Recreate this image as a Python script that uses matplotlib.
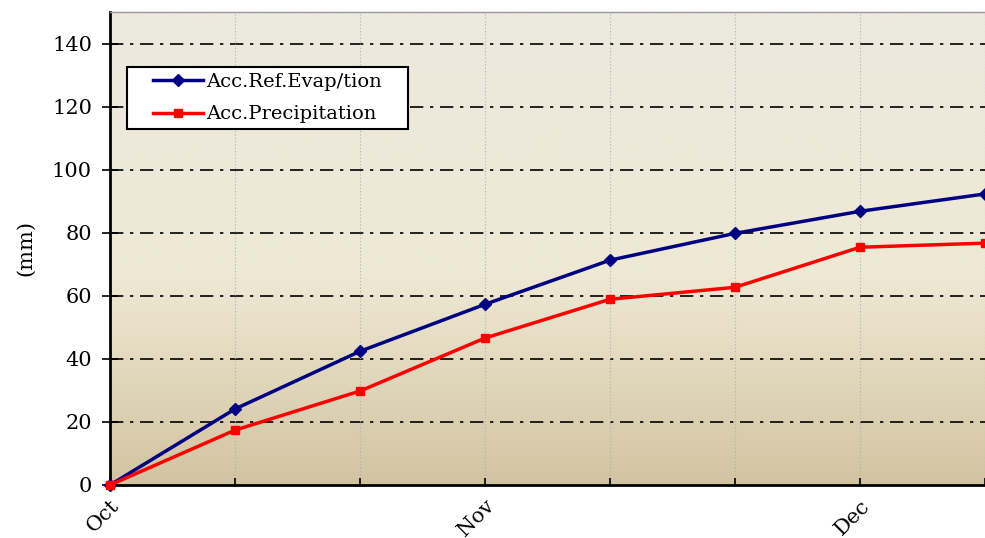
import matplotlib
matplotlib.use("Agg")
import matplotlib.pyplot as plt
import numpy as np
from matplotlib.colors import LinearSegmentedColormap
from matplotlib.patches import Rectangle
from matplotlib.transforms import IdentityTransform

x_labels = ["Oct", "", "", "Nov", "", "", "Dec", ""]
evap = [0, 24.1, 42.4, 57.3, 71.3, 79.8, 86.8, 92.3]
precip = [0, 17.4, 29.8, 46.6, 58.9, 62.7, 75.4, 76.7]

plt.rcParams['font.family'] = ['DejaVu Serif']
fig = plt.figure(figsize=(9.85, 5.38), dpi=100)
ax = fig.add_axes([110/985, 53/538, 875/985, 473/538])

# gradient background
cmap = LinearSegmentedColormap.from_list("bg", [
    (0.0, (210/255, 196/255, 161/255)),
    (0.45, (239/255, 233/255, 213/255)),
    (1.0, (236/255, 233/255, 222/255))])
grad = np.linspace(0, 1, 256).reshape(-1, 1)
ax.imshow(grad, aspect='auto', cmap=cmap, origin='lower',
          extent=[0, 7, 0, 150], zorder=0)

xs = np.arange(len(evap))
ax.plot(xs, evap, color='#000080', lw=2.5, marker='D', ms=6.5, label='Acc.Ref.Evap/tion', zorder=3, clip_on=False)
ax.plot(xs, precip, color='#FF0000', lw=2.5, marker='s', ms=6, label='Acc.Precipitation', zorder=3, clip_on=False)

ax.set_xlim(0, 7)
ax.set_ylim(0, 150)
ax.set_yticks(np.arange(0, 141, 20))
ax.set_xticks(xs)
ax.set_xticklabels(x_labels, rotation=45, ha='right', rotation_mode='anchor', fontsize=15)
ax.tick_params(axis='y', labelsize=15, direction='inout', length=12, width=1.2, pad=7)
ax.tick_params(axis='x', direction='in', length=5, width=1.2, pad=8)

for yv in np.arange(20, 141, 20):
    ax.axhline(yv, color='black', lw=1.2, ls=(0, (8, 4, 2, 4)), zorder=1)
for xv in xs[1:]:
    ax.axvline(xv, color='#b0b0b0', lw=0.8, ls=(0, (1, 2)), zorder=1)

ax.set_ylabel("(mm)", fontsize=15, labelpad=12)

for side in ['left', 'bottom']:
    ax.spines[side].set_linewidth(2)
ax.spines['top'].set_color('#999999')
ax.spines['top'].set_linewidth(1)
ax.spines['right'].set_visible(False)

leg = ax.legend(loc='center', bbox_to_anchor=(0.18, 0.818), fontsize=14,
                frameon=False, handlelength=2.6, handletextpad=0.15,
                borderpad=0.3, labelspacing=0.75)
leg.set_zorder(6)

fig.canvas.draw()
bb = leg.get_window_extent()
padx = 20
rect = Rectangle((bb.x0 - padx, bb.y0), bb.width + 2 * padx, bb.height,
                 facecolor='white', edgecolor='black', lw=1.5, zorder=5)
rect.set_transform(IdentityTransform())
ax.add_artist(rect)

fig.savefig("out.png", dpi=100)
